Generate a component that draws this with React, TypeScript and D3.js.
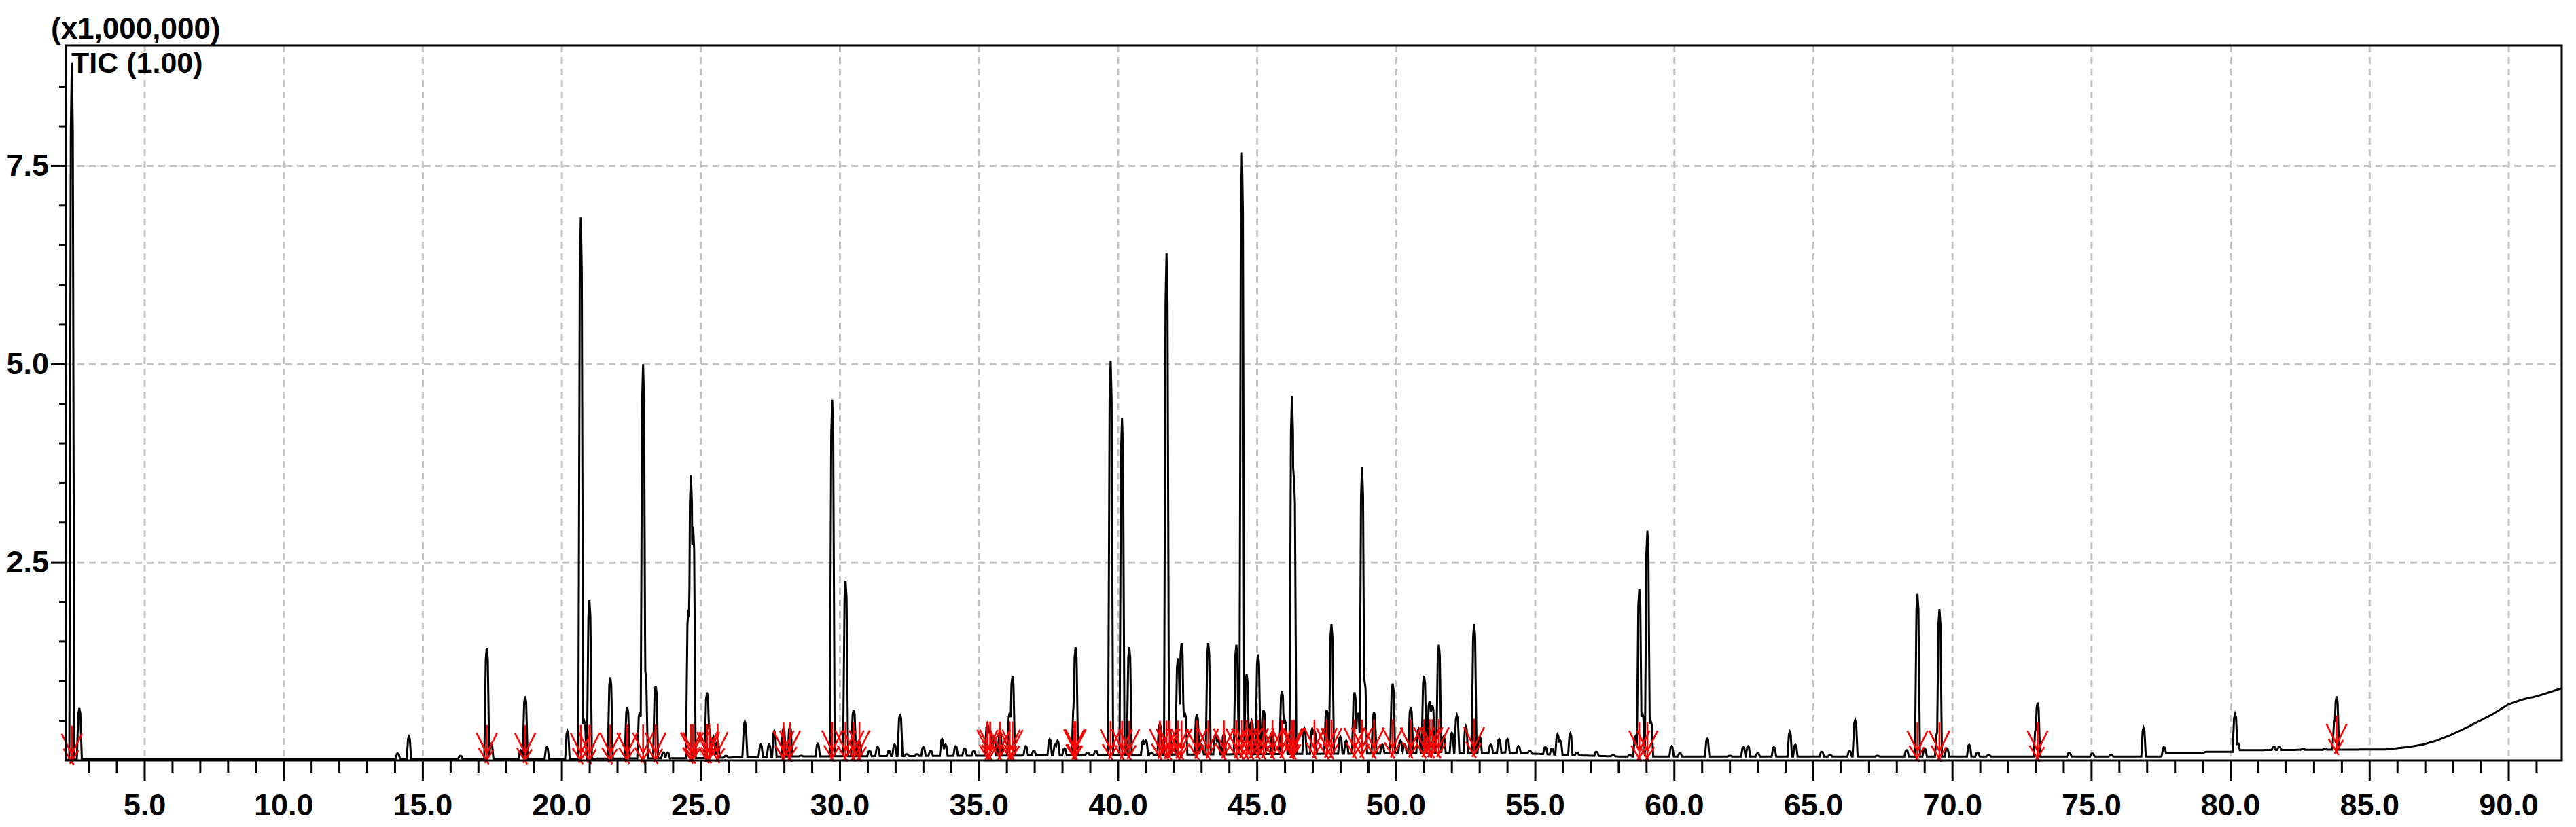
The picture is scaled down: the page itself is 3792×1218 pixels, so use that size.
import React from 'react';
import * as d3 from 'd3';

// Peak apex retention times (min) and apex intensities (x1,000,000)
const peakTimes = [
  2.38, 2.65, 14.1, 14.5, 16.35,
  17.30, 17.46, 18.52, 18.68, 19.46, 20.2, 20.68, 20.8, 20.99,
  21.74, 22.35, 22.8, 22.92, 23.0, 23.37, 23.65, 23.8,
  24.55, 24.64, 24.72, 25.22, 25.3, 25.45, 25.6, 25.9, 26.58,
  27.15, 27.45, 27.64, 27.97, 28.2, 28.6, 29.2,
  29.72, 30.2, 30.49, 30.7, 31.06, 31.35, 31.76, 31.96,
  32.16, 32.4, 32.77, 33.0, 33.26, 33.67, 33.79, 34.16, 34.48, 34.81,
  35.3, 35.4, 35.54, 35.75, 36.1, 36.2, 36.68, 36.97, 37.54, 37.74, 37.82, 38.07,
  38.42, 38.47, 38.9, 39.2,
  39.73, 40.14, 40.4, 40.9, 41.0, 41.2, 41.5, 41.74, 41.85,
  42.15, 42.28, 42.4, 42.83, 43.0, 43.24, 43.5, 43.6, 43.8,
  44.25, 44.45, 44.62, 44.8, 45.03, 45.23, 45.55, 45.89, 46.0,
  46.25, 46.32, 46.7, 46.98, 47.06, 47.5, 47.67, 47.99, 48.2,
  48.5, 48.62, 48.77, 48.86, 49.2, 49.5, 49.87, 50.15, 50.3,
  50.52, 50.8, 51.0, 51.2, 51.3, 51.53, 51.7, 52.0, 52.18, 52.5, 52.8, 53.0,
  53.4, 53.7, 54.0, 54.4, 54.8,
  55.36, 55.6, 55.8, 55.9, 56.26, 56.5, 57.2, 57.8, 58.4,
  58.6, 58.74, 58.85, 59.03, 59.15, 59.9, 60.2,
  61.18, 62.0, 62.48, 62.65, 63.0, 63.58, 64.15, 64.35, 65.3, 65.6,
  66.3, 66.5, 67.3,
  68.35, 68.74, 69.0, 69.45, 69.53, 69.8,
  70.6, 70.9, 71.3,
  73.0, 73.06, 74.2, 75.03, 75.7,
  76.87, 77.6,
  80.16, 80.25,
  81.55, 81.75, 82.6, 83.4,
  83.75, 83.81,
];
const peakHeights = [
  8.8, 0.66, 0.09, 0.3, 0.06,
  1.42, 0.21, 0.13, 0.81, 0.17, 0.37, 6.85, 0.5, 2.02,
  1.05, 0.67, 0.61, 5.0, 1.13, 0.94, 0.1, 0.1,
  1.9, 3.6, 2.95, 0.86, 0.4, 0.3, 0.24, 0.06, 0.49,
  0.2, 0.2, 0.37, 0.41, 0.43, 0.06, 0.21,
  4.55, 2.27, 0.64, 0.23, 0.12, 0.17, 0.12, 0.2,
  0.585, 0.08, 0.08, 0.17, 0.12, 0.27, 0.2, 0.18, 0.15, 0.12,
  0.46, 0.38, 0.3, 0.36, 0.6, 1.06, 0.18, 0.12, 0.27, 0.2, 0.25, 0.15,
  0.7, 1.43, 0.1, 0.12,
  5.04, 4.32, 1.43, 0.25, 0.25, 0.1, 0.46, 6.4, 0.4,
  1.29, 1.48, 0.6, 0.58, 0.2, 1.48, 0.33, 0.25, 0.33,
  1.46, 7.67, 1.09, 0.5, 1.34, 0.64, 0.33, 0.88, 0.5,
  4.6, 3.6, 0.4, 0.4, 0.37, 0.64, 1.72, 0.3, 0.25,
  0.86, 0.6, 3.7, 1.0, 0.61, 0.2, 0.97, 0.25, 0.2,
  0.67, 0.4, 1.07, 0.75, 0.7, 1.46, 0.3, 0.35, 0.57, 0.43, 1.72, 0.3,
  0.2, 0.27, 0.27, 0.18, 0.12,
  0.17, 0.15, 0.33, 0.25, 0.34, 0.1, 0.11, 0.07, 0.07,
  0.3, 2.16, 0.6, 2.9, 0.5, 0.18, 0.09,
  0.27, 0.06, 0.17, 0.18, 0.09, 0.17, 0.36, 0.2, 0.11, 0.07,
  0.12, 0.51, 0.06,
  0.13, 2.1, 0.15, 0.35, 1.91, 0.15,
  0.2, 0.1, 0.07,
  0.4, 0.73, 0.1, 0.09, 0.07,
  0.41, 0.17,
  0.585, 0.22,
  0.17, 0.17, 0.15, 0.15,
  0.51, 0.81,
];

// Baseline of the trace
const baseTimes = [2.1, 2.3, 3, 15, 20, 25, 28, 35, 40, 45, 50, 54, 56, 58, 62, 67, 77.5, 77.6, 79, 79.1, 80.1, 80.3, 85.6, 86.4, 86.9, 87.4, 87.9, 88.4, 88.9, 89.4, 90.0, 90.5, 91.0, 91.9];
const baseValues = [0.0, 0.01, 0.02, 0.02, 0.02, 0.03, 0.05, 0.06, 0.07, 0.08, 0.09, 0.1, 0.07, 0.05, 0.05, 0.05, 0.05, 0.09, 0.09, 0.11, 0.11, 0.13, 0.14, 0.17, 0.2, 0.25, 0.32, 0.4, 0.49, 0.58, 0.71, 0.77, 0.81, 0.91];

// Integrated peaks (red markers)
const markerTimes = [
  2.38, 17.3, 18.68, 20.68, 20.99, 21.74, 22.35, 22.92, 23.37, 24.64, 24.72, 25.22, 25.3, 25.6,
  27.97, 28.2, 29.72, 30.2, 30.49, 30.7, 35.3, 35.4, 35.75, 36.1, 36.2, 38.42, 38.47, 39.73, 40.14,
  40.4, 41.5, 41.74, 41.85, 42.15, 42.28, 42.83, 43.24, 43.8, 44.25, 44.45, 44.62, 44.8, 45.03,
  45.23, 45.55, 45.89, 46.25, 46.32, 47.06, 47.5, 47.67, 48.5, 48.77, 49.2, 49.87, 50.52, 51.0,
  51.2, 51.3, 51.53, 52.8, 58.74, 59.03, 68.74, 69.53, 73.06, 83.81,
];

const xMajorTicks = [5, 10, 15, 20, 25, 30, 35, 40, 45, 50, 55, 60, 65, 70, 75, 80, 85, 90];
const xTickLabels = ['5.0', '10.0', '15.0', '20.0', '25.0', '30.0', '35.0', '40.0', '45.0', '50.0', '55.0', '60.0', '65.0', '70.0', '75.0', '80.0', '85.0', '90.0'];
const yMajorTicks = [2.5, 5.0, 7.5];
const yTickLabels = ['2.5', '5.0', '7.5'];

const W = 3792;
const H = 1218;
const FONT = "'Liberation Sans', Arial, sans-serif";

export default function App() {
  const x = d3.scaleLinear().domain([2.167, 91.905]).range([97, 3771]);
  const y = d3.scaleLinear().domain([0, 9.02]).range([1120, 67]);
  const base = d3.scaleLinear().domain(baseTimes).range(baseValues).clamp(true);
  const [t0, t1] = x.domain();

  const prof = (u: number) => (u <= 0.4 ? 1 - 0.25 * u : u < 1 ? (0.9 * (1 - u)) / 0.6 : 0);
  const widthOf = (h: number) => (h < 0.45 ? 0.08 : 0.09);

  const samples: number[] = d3.range(t0, t1, 0.025);
  peakTimes.forEach((t, i) => {
    const w = widthOf(peakHeights[i]);
    samples.push(t - w, t - 0.4 * w, t, t + 0.4 * w, t + w);
  });
  samples.push(t1);
  const ts = Array.from(new Set(samples.filter((t) => t >= t0 && t <= t1))).sort((a, b) => a - b);
  const pts: [number, number][] = ts.map((t) => {
    const b = base(t);
    let m = 0;
    for (let i = 0; i < peakTimes.length; i++) {
      const w = widthOf(peakHeights[i]);
      const u = Math.abs(t - peakTimes[i]) / w;
      if (u < 1) {
        const v = (peakHeights[i] - base(peakTimes[i])) * prof(u);
        if (v > m) m = v;
      }
    }
    return [t, b + m];
  });
  const line = d3.line<[number, number]>().x((d) => x(d[0])).y((d) => y(d[1]));

  const xMinor = d3.range(3, 92, 1);
  const yMinor = d3.range(0.5, 9.0, 0.5);

  return (
    <svg width={W} height={H} style={{ position: 'absolute', left: 0, top: 0, background: '#fff' }}>
      <rect x={0} y={0} width={W} height={H} fill="#fff" />
      <defs>
        <clipPath id="plot">
          <rect x={97} y={67} width={3674} height={1053} />
        </clipPath>
      </defs>
      {/* grid */}
      {xMajorTicks.map((t) => (
        <line key={'gx' + t} x1={x(t)} x2={x(t)} y1={67} y2={1120} stroke="#c4c4c4" strokeWidth={3} strokeDasharray="10,7" />
      ))}
      {yMajorTicks.map((v) => (
        <line key={'gy' + v} x1={97} x2={3771} y1={y(v)} y2={y(v)} stroke="#c4c4c4" strokeWidth={3} strokeDasharray="10,7" />
      ))}
      {/* trace */}
      <g clipPath="url(#plot)">
        <path d={line(pts) || ''} fill="none" stroke="#000" strokeWidth={3} strokeLinejoin="miter" />
      </g>
      {/* peak markers */}
      <g stroke="#ff0000" strokeWidth={2.6}>
        {markerTimes.map((t, i) => {
          const px = x(t);
          const yb = y(base(t));
          return (
            <g key={'m' + i}>
              <line x1={px} x2={px} y1={yb + 4} y2={yb - 50} />
              <line x1={px - 15} x2={px} y1={yb - 38} y2={yb - 8} />
              <line x1={px + 15} x2={px} y1={yb - 38} y2={yb - 8} />
              <line x1={px - 12} x2={px + 3} y1={yb - 16} y2={yb + 8} />
              <line x1={px + 10} x2={px - 3} y1={yb - 14} y2={yb + 6} />
            </g>
          );
        })}
      </g>
      {/* frame */}
      <rect x={97} y={67} width={3674} height={1053} fill="none" stroke="#000" strokeWidth={3} />
      {/* x ticks */}
      {xMinor.map((t) => (
        <line key={'xm' + t} x1={x(t)} x2={x(t)} y1={1120} y2={t % 5 === 0 ? 1150 : 1138} stroke="#000" strokeWidth={3} />
      ))}
      {xMajorTicks.map((t, i) => (
        <text key={'xl' + t} x={x(t)} y={1201} textAnchor="middle" fontFamily={FONT} fontWeight="bold" fontSize={45}>
          {xTickLabels[i]}
        </text>
      ))}
      {/* y ticks */}
      {yMinor.map((v) => (
        <line key={'ym' + v} x1={yMajorTicks.includes(v) ? 75 : 87} x2={97} y1={y(v)} y2={y(v)} stroke="#000" strokeWidth={3} />
      ))}
      {yMajorTicks.map((v, i) => (
        <text key={'yl' + v} x={72} y={y(v) + 15} textAnchor="end" fontFamily={FONT} fontWeight="bold" fontSize={45}>
          {yTickLabels[i]}
        </text>
      ))}
      <text x={75} y={57} fontFamily={FONT} fontWeight="bold" fontSize={44}>(x1,000,000)</text>
      <text x={105} y={107} fontFamily={FONT} fontWeight="bold" fontSize={43}>TIC (1.00)</text>
    </svg>
  );
}
